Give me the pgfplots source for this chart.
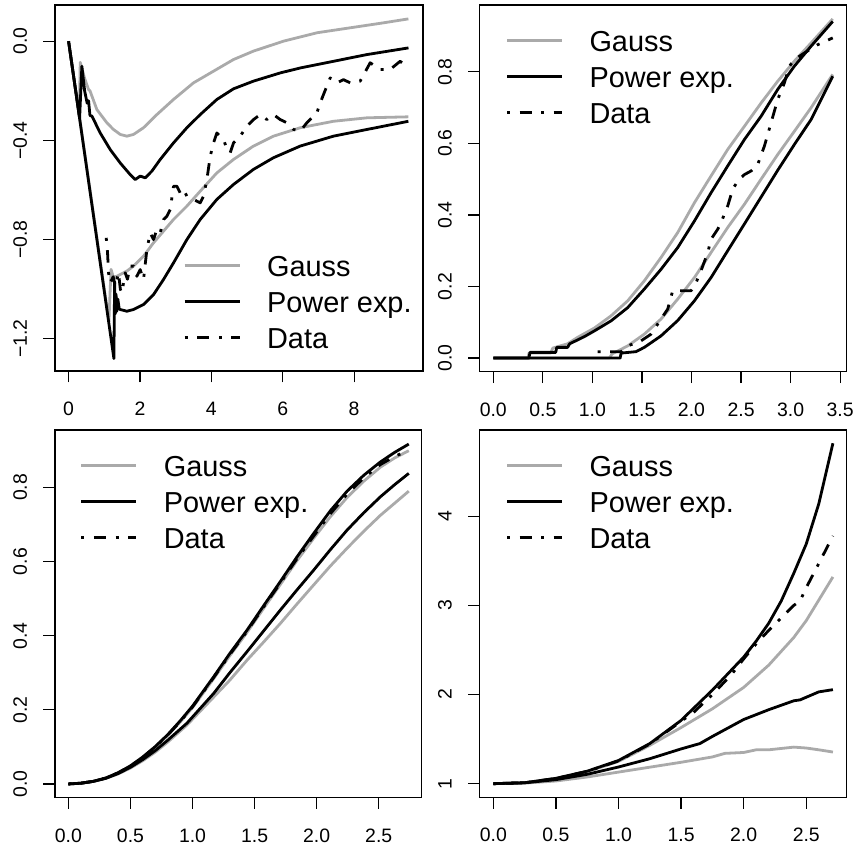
\documentclass[border=0pt]{standalone}
\usepackage{fontspec}
\setmainfont{Liberation Sans}
\usepackage{pgfplots}
\pgfplotsset{compat=1.18}
\definecolor{rgray}{HTML}{AAAAAA}
\pgfplotsset{
  rplot/.style={
    scale only axis,
    axis line style={line width=1.2bp},
    tick align=outside, major tick length=11.5bp,
    tick style={line width=1.2bp, black},
    xtick pos=bottom, ytick pos=left,
    minor tick num=0,
    ticklabel style={font=\fontsize{19.5}{19.5}\selectfont},
    xticklabel style={inner sep=0pt, anchor=north, text height=14bp, text depth=0pt},
    yticklabel style={inner sep=0pt, rotate=90, anchor=south, text height=14bp, text depth=0pt},
    xticklabel shift=19bp, yticklabel shift=16.3bp,
    legend style={draw=none, fill=none, inner sep=0pt, outer sep=0pt, row sep=14bp, column sep=26bp,
      font=\fontsize{29}{29}\selectfont, nodes={inner sep=0pt, text height=22bp, text depth=0pt}, anchor=north west},
    legend cell align=left,
    legend image code/.code={\draw[##1] (0bp,0bp) -- (55bp,0bp);},
  },
  gline/.style={color=rgray, line width=2.8bp, line join=round},
  bline/.style={color=black, line width=2.8bp, line join=round},
  dline/.style={color=black, line width=2.8bp, line join=round, dash pattern=on 3bp off 9.4bp on 12.4bp off 9.4bp},
}
\begin{document}
\begin{tikzpicture}
\useasboundingbox (0,0) rectangle (857bp,848bp);
% ---------------- panel 1
\begin{axis}[rplot, at={(55bp,477bp)}, anchor=south west, width=368bp, height=366bp,
  xmin=-0.38, xmax=9.93, ymin=-1.33, ymax=0.146,
  xtick={0,2,4,6,8}, xticklabels={0,2,4,6,8},
  ytick={-1.2,-0.8,-0.4,0}, yticklabels={−1.2,−0.8,−0.4,0.0},
  legend style={at={(axis description cs:0.3486,0.3178)}}]
\addplot[gline] coordinates {(0,0) (0.30,-0.30) (0.327,-0.085) (0.45,-0.15) (0.56,-0.195) (0.60,-0.20) (0.794,-0.276) (1.074,-0.329) (1.25,-0.355) (1.447,-0.376) (1.634,-0.383) (1.82,-0.376) (2.10,-0.349) (2.474,-0.296) (2.94,-0.235) (3.50,-0.168) (4.06,-0.121) (4.62,-0.074) (5.18,-0.040) (6.02,0.0) (6.96,0.034) (7.89,0.054) (8.82,0.074) (9.52,0.090)};
\addlegendentry{Gauss}
\addplot[gline, forget plot] coordinates {(0,0) (1.13,-1.13) (1.19,-0.92) (1.25,-0.95) (1.354,-0.948) (1.634,-0.927) (1.82,-0.907) (2.10,-0.867) (2.38,-0.813) (2.66,-0.766) (2.94,-0.719) (3.315,-0.665) (3.688,-0.605) (4.155,-0.531) (4.62,-0.477) (5.18,-0.423) (5.74,-0.383) (6.49,-0.349) (7.42,-0.323) (8.36,-0.309) (9.52,-0.305)};
\addplot[bline] coordinates {(0,0) (0.31,-0.31) (0.373,-0.101) (0.45,-0.2) (0.52,-0.25) (0.56,-0.24) (0.60,-0.30) (0.654,-0.302) (0.887,-0.370) (1.167,-0.437) (1.447,-0.491) (1.727,-0.538) (1.867,-0.558) (2.007,-0.544) (2.148,-0.551) (2.334,-0.524) (2.568,-0.477) (2.941,-0.410) (3.315,-0.349) (3.688,-0.296) (4.155,-0.235) (4.622,-0.192) (5.182,-0.161) (5.929,-0.128) (6.489,-0.108) (7.423,-0.081) (8.357,-0.054) (9.524,-0.027)};
\addlegendentry{Power exp.}
\addplot[bline, forget plot] coordinates {(0,0) (1.27,-1.28) (1.29,-0.97) (1.31,-1.10) (1.33,-1.02) (1.35,-1.09) (1.38,-1.04) (1.42,-1.08) (1.447,-1.082) (1.634,-1.089) (1.82,-1.082) (2.10,-1.062) (2.38,-1.022) (2.66,-0.961) (2.94,-0.894) (3.315,-0.800) (3.688,-0.719) (4.155,-0.638) (4.62,-0.578) (5.18,-0.517) (5.74,-0.470) (6.49,-0.423) (7.42,-0.383) (8.36,-0.356) (9.52,-0.323)};
\addplot[dline] coordinates {(1.055,-0.793) (1.092,-0.853) (1.12,-0.934) (1.167,-0.974) (1.25,-0.95) (1.307,-0.988) (1.40,-0.934) (1.45,-1.0) (1.494,-1.015) (1.587,-0.934) (1.65,-0.96) (1.727,-0.907) (1.82,-0.907) (1.914,-0.948) (2.007,-0.921) (2.10,-0.961) (2.194,-0.840) (2.288,-0.773) (2.38,-0.800) (2.474,-0.759) (2.568,-0.773) (2.661,-0.719) (2.754,-0.706) (2.848,-0.679) (2.941,-0.585) (3.035,-0.585) (3.128,-0.612) (3.221,-0.598) (3.315,-0.625) (3.501,-0.638) (3.688,-0.652) (3.782,-0.625) (3.875,-0.558) (3.968,-0.464) (4.062,-0.410) (4.155,-0.370) (4.248,-0.383) (4.342,-0.397) (4.45,-0.44) (4.528,-0.450) (4.622,-0.410) (4.809,-0.383) (4.995,-0.343) (5.182,-0.316) (5.369,-0.296) (5.556,-0.316) (5.742,-0.296) (5.929,-0.316) (6.116,-0.329) (6.303,-0.356) (6.489,-0.363) (6.676,-0.329) (6.956,-0.289) (7.05,-0.249) (7.143,-0.215) (7.33,-0.148) (7.516,-0.168) (7.703,-0.155) (7.89,-0.168) (8.17,-0.161) (8.45,-0.087) (8.73,-0.114) (9.01,-0.114) (9.29,-0.081) (9.52,-0.108)};
\addlegendentry{Data}
\end{axis}
% ---------------- panel 2
\begin{axis}[rplot, at={(479.7bp,476.3bp)}, anchor=south west, width=366.6bp, height=366.7bp,
  xmin=-0.137, xmax=3.562, ymin=-0.038, ymax=0.987,
  xtick={0,0.5,1,1.5,2,2.5,3,3.5}, xticklabels={0.0,0.5,1.0,1.5,2.0,2.5,3.0,3.5},
  ytick={0,0.2,0.4,0.6,0.8}, yticklabels={0.0,0.2,0.4,0.6,0.8},
  legend style={at={(axis description cs:0.0709,0.9326)}}]
\addplot[gline] coordinates {(0,0) (0.35,0) (0.36,0.014) (0.58,0.014) (0.60,0.028) (0.75,0.04) (0.851,0.058) (1.02,0.084) (1.188,0.118) (1.356,0.160) (1.524,0.216) (1.692,0.281) (1.861,0.351) (2.029,0.434) (2.197,0.509) (2.365,0.583) (2.534,0.648) (2.702,0.713) (2.870,0.774) (3.038,0.830) (3.207,0.881) (3.425,0.948)};
\addlegendentry{Gauss}
\addplot[gline, forget plot] coordinates {(0,0) (1.17,0) (1.20,0.012) (1.356,0.034) (1.524,0.067) (1.692,0.109) (1.861,0.165) (2.029,0.225) (2.197,0.295) (2.365,0.365) (2.534,0.430) (2.702,0.500) (2.870,0.569) (3.038,0.634) (3.207,0.700) (3.425,0.793)};
\addplot[bline] coordinates {(0,0) (0.36,0) (0.37,0.016) (0.63,0.016) (0.64,0.030) (0.75,0.030) (0.77,0.040) (0.83,0.048) (0.919,0.060) (1.02,0.076) (1.188,0.104) (1.356,0.141) (1.524,0.193) (1.692,0.248) (1.861,0.309) (2.029,0.383) (2.197,0.462) (2.365,0.537) (2.534,0.611) (2.702,0.676) (2.870,0.751) (3.038,0.816) (3.207,0.872) (3.425,0.941)};
\addlegendentry{Power exp.}
\addplot[bline, forget plot] coordinates {(0,0) (1.28,0) (1.29,0.014) (1.44,0.018) (1.524,0.030) (1.692,0.062) (1.861,0.105) (2.029,0.160) (2.197,0.225) (2.365,0.300) (2.534,0.375) (2.702,0.450) (2.870,0.525) (3.038,0.597) (3.207,0.667) (3.425,0.788)};
\addplot[dline] coordinates {(1.053,0.018) (1.289,0.018) (1.356,0.034) (1.49,0.048) (1.592,0.067) (1.692,0.109) (1.76,0.137) (1.81,0.188) (1.995,0.188) (2.046,0.211) (2.096,0.244) (2.164,0.295) (2.197,0.332) (2.264,0.360) (2.298,0.379) (2.365,0.425) (2.416,0.472) (2.466,0.495) (2.534,0.513) (2.601,0.523) (2.668,0.541) (2.736,0.593) (2.803,0.658) (2.870,0.723) (2.937,0.769) (2.988,0.816) (3.038,0.834) (3.139,0.853) (3.274,0.876) (3.425,0.895)};
\addlegendentry{Data}
\end{axis}
% ---------------- panel 3
\begin{axis}[rplot, at={(55bp,50.7bp)}, anchor=south west, width=366.7bp, height=367.3bp,
  xmin=-0.108, xmax=2.846, ymin=-0.036, ymax=0.955,
  xtick={0,0.5,1,1.5,2,2.5}, xticklabels={0.0,0.5,1.0,1.5,2.0,2.5},
  ytick={0,0.2,0.4,0.6,0.8}, yticklabels={0.0,0.2,0.4,0.6,0.8},
  legend style={at={(axis description cs:0.0682,0.9328)}}]
\addplot[gline] coordinates {(0,0) (0.1,0.002) (0.2,0.007) (0.3,0.016) (0.4,0.030) (0.5,0.048) (0.6,0.071) (0.7,0.099) (0.8,0.131) (0.9,0.167) (1.0,0.206) (1.172,0.285) (1.3,0.346) (1.439,0.409) (1.573,0.474) (1.707,0.538) (1.84,0.602) (1.976,0.663) (2.11,0.721) (2.245,0.773) (2.38,0.817) (2.514,0.855) (2.63,0.880) (2.742,0.899)};
\addlegendentry{Gauss}
\addplot[gline, forget plot] coordinates {(0,0) (0.1,0.002) (0.2,0.007) (0.3,0.015) (0.4,0.027) (0.5,0.043) (0.6,0.063) (0.7,0.086) (0.8,0.113) (0.955,0.159) (1.172,0.235) (1.3,0.280) (1.439,0.334) (1.573,0.383) (1.707,0.433) (1.84,0.485) (1.976,0.537) (2.11,0.588) (2.245,0.636) (2.38,0.682) (2.514,0.725) (2.63,0.758) (2.742,0.790)};
\addplot[bline] coordinates {(0,0) (0.1,0.002) (0.2,0.007) (0.3,0.016) (0.4,0.030) (0.5,0.049) (0.6,0.073) (0.7,0.101) (0.8,0.133) (0.9,0.170) (1.0,0.210) (1.172,0.290) (1.3,0.352) (1.439,0.415) (1.573,0.481) (1.707,0.546) (1.84,0.612) (1.976,0.676) (2.11,0.737) (2.245,0.790) (2.38,0.833) (2.514,0.869) (2.63,0.895) (2.742,0.917)};
\addlegendentry{Power exp.}
\addplot[bline, forget plot] coordinates {(0,0) (0.1,0.002) (0.2,0.007) (0.3,0.015) (0.4,0.028) (0.5,0.045) (0.6,0.066) (0.7,0.090) (0.8,0.118) (0.955,0.164) (1.172,0.245) (1.3,0.300) (1.439,0.357) (1.573,0.413) (1.707,0.469) (1.84,0.523) (1.976,0.577) (2.11,0.632) (2.245,0.685) (2.38,0.732) (2.514,0.775) (2.63,0.808) (2.742,0.838)};
\addplot[dline] coordinates {(0,0) (0.1,0.002) (0.2,0.007) (0.3,0.016) (0.4,0.030) (0.5,0.048) (0.6,0.072) (0.7,0.100) (0.8,0.132) (0.9,0.168) (1.0,0.208) (1.172,0.288) (1.3,0.349) (1.439,0.412) (1.573,0.478) (1.707,0.542) (1.84,0.607) (1.976,0.669) (2.11,0.729) (2.245,0.782) (2.38,0.826) (2.514,0.862) (2.63,0.884) (2.742,0.900)};
\addlegendentry{Data}
\end{axis}
% ---------------- panel 4
\begin{axis}[rplot, at={(479.7bp,50.7bp)}, anchor=south west, width=366.6bp, height=367.3bp,
  xmin=-0.109, xmax=2.82, ymin=0.847, ymax=4.969,
  xtick={0,0.5,1,1.5,2,2.5}, xticklabels={0.0,0.5,1.0,1.5,2.0,2.5},
  ytick={1,2,3,4}, yticklabels={1,2,3,4},
  legend style={at={(axis description cs:0.0709,0.9328)}}]
\addplot[gline] coordinates {(0,1) (0.25,1.01) (0.5,1.058) (0.75,1.135) (1.0,1.25) (1.25,1.43) (1.5,1.63) (1.75,1.84) (2.0,2.08) (2.2,2.33) (2.4,2.64) (2.5,2.83) (2.6,3.06) (2.713,3.32)};
\addlegendentry{Gauss}
\addplot[gline, forget plot] coordinates {(0,1) (0.25,1.006) (0.5,1.03) (0.75,1.075) (1.0,1.13) (1.25,1.185) (1.5,1.24) (1.75,1.30) (1.85,1.34) (2.0,1.35) (2.1,1.38) (2.2,1.38) (2.4,1.41) (2.5,1.40) (2.6,1.38) (2.713,1.355)};
\addplot[bline] coordinates {(0,1) (0.25,1.01) (0.5,1.06) (0.75,1.14) (1.0,1.26) (1.25,1.45) (1.5,1.71) (1.75,2.05) (2.0,2.42) (2.1,2.60) (2.2,2.80) (2.3,3.05) (2.4,3.36) (2.5,3.69) (2.6,4.14) (2.713,4.82)};
\addlegendentry{Power exp.}
\addplot[bline, forget plot] coordinates {(0,1) (0.25,1.01) (0.5,1.045) (0.75,1.105) (1.0,1.187) (1.25,1.28) (1.5,1.39) (1.65,1.45) (1.75,1.53) (2.0,1.72) (2.2,1.83) (2.3,1.88) (2.4,1.93) (2.45,1.94) (2.5,1.97) (2.6,2.03) (2.713,2.055)};
\addplot[dline] coordinates {(0,1) (0.25,1.01) (0.5,1.058) (0.75,1.138) (1.0,1.255) (1.25,1.445) (1.5,1.70) (1.6,1.80) (1.75,2.00) (1.9,2.22) (2.0,2.40) (2.1,2.57) (2.2,2.72) (2.3,2.86) (2.4,3.00) (2.45,3.05) (2.5,3.20) (2.6,3.47) (2.713,3.78)};
\addlegendentry{Data}
\end{axis}
\end{tikzpicture}
\end{document}
